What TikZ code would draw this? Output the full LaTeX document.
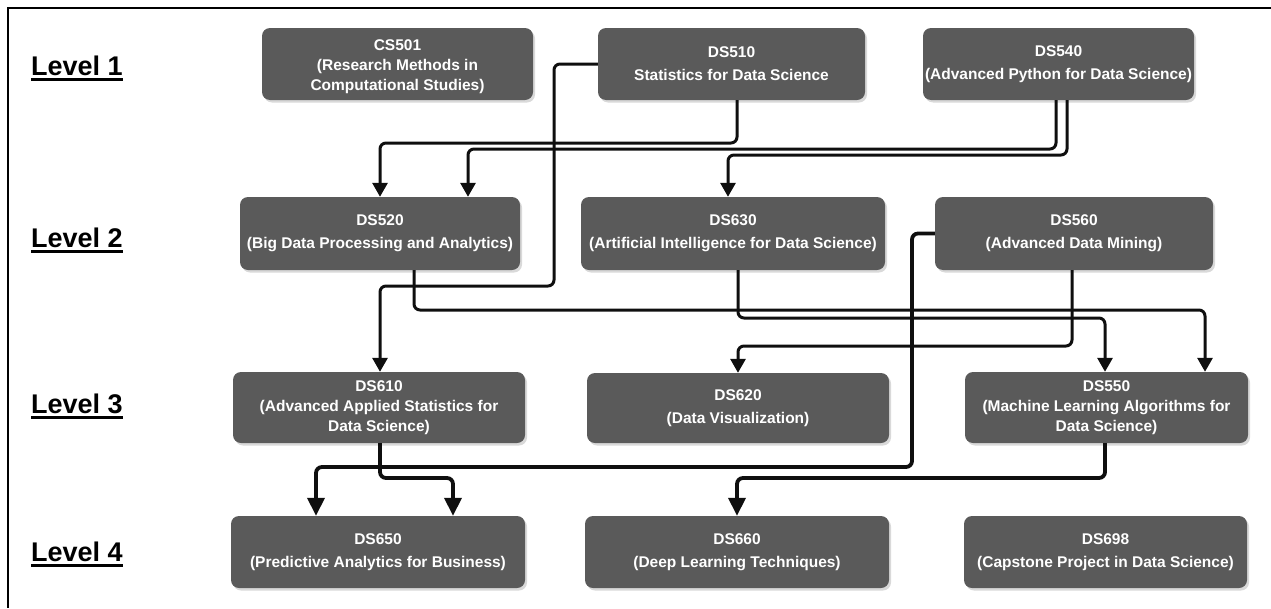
\documentclass[tikz,border=0pt]{standalone}
\usepackage{fontspec}
\setmainfont{Liberation Sans}
\usetikzlibrary{arrows.meta,shadows,calc}
\definecolor{boxgray}{RGB}{90,90,90}
\definecolor{linecol}{RGB}{15,15,15}
\begin{document}
\begin{tikzpicture}[x=1pt,y=-1pt,
  course/.style={rectangle, rounded corners=8pt, fill=boxgray, text=white,
    align=center, inner sep=0pt,
    font=\fontsize{15.5}{23}\selectfont\bfseries,
    drop shadow={shadow xshift=2pt, shadow yshift=-2.5pt, opacity=0.3, fill=gray}},
  coursethree/.style={course, font=\fontsize{15.5}{20}\selectfont\bfseries},
  level/.style={anchor=base west, inner sep=0pt,
    font=\fontsize{27}{27}\selectfont\bfseries},
  link/.style={draw=linecol, line width=3pt, rounded corners=6pt,
    -{Triangle[length=14pt,width=15pt]}},
  heavylink/.style={link, line width=3.8pt,
    -{Triangle[length=18pt,width=17pt]}},
]
\useasboundingbox (0,0) rectangle (1271,608);

% page frame (top and left edges)
\draw[line width=2.5pt] (1271,8) -- (8,8) -- (8,608);

% level headings
\foreach \n/\y in {1/75, 2/247, 3/413, 4/561}{
  \node[level] (lv\n) at (31,\y) {Level \n};
  \draw[line width=2.2pt] ([yshift=-4.5pt]lv\n.base west) -- ([yshift=-4.5pt]lv\n.base east);
}

% level 1
\node[coursethree, minimum width=271pt, minimum height=72pt] (cs501) at (397.5,64)
  {\rule{0pt}{17pt}CS501\\(Research Methods in\\Computational Studies)};
\node[course, minimum width=267pt, minimum height=72pt] (ds510) at (731.5,64)
  {DS510\\Statistics for Data Science};
\node[course, minimum width=271pt, minimum height=72pt] (ds540) at (1058.5,64)
  {DS540\\(Advanced Python for Data Science)};

% level 2
\node[course, minimum width=280pt, minimum height=73pt] (ds520) at (380,233.5)
  {DS520\\(Big Data Processing and Analytics)};
\node[course, minimum width=304pt, minimum height=73pt] (ds630) at (733,233.5)
  {DS630\\(Artificial Intelligence for Data Science)};
\node[course, minimum width=278pt, minimum height=73pt] (ds560) at (1074,233.5)
  {DS560\\(Advanced Data Mining)};

% level 3
\node[coursethree, minimum width=292pt, minimum height=71pt] (ds610) at (379,407.5)
  {DS610\\(Advanced Applied Statistics for\\Data Science)};
\node[course, minimum width=302pt, minimum height=70pt] (ds620) at (738,408)
  {DS620\\(Data Visualization)};
\node[coursethree, minimum width=283pt, minimum height=71pt] (ds550) at (1106.5,407.5)
  {DS550\\(Machine Learning Algorithms for\\Data Science)};

% level 4
\node[course, minimum width=294pt, minimum height=72pt] (ds650) at (378,552)
  {DS650\\(Predictive Analytics for Business)};
\node[course, minimum width=304pt, minimum height=72pt] (ds660) at (737,552)
  {DS660\\(Deep Learning Techniques)};
\node[course, minimum width=283pt, minimum height=72pt] (ds698) at (1105.5,552)
  {DS698\\(Capstone Project in Data Science)};

% prerequisites: level 1 -> level 2
\draw[link] (737,0 |- ds510.south) |- (380,143) -- (380,0 |- ds520.north);
\draw[link] (1056,0 |- ds540.south) |- (468,149) -- (468,0 |- ds520.north);
\draw[link] (1067,0 |- ds540.south) |- (728,155) -- (728,0 |- ds630.north);

% level 1/2 -> level 3
\draw[link] (ds510.west) -| (554,286) -| (380,0 |- ds610.north);
\draw[link] (414,0 |- ds520.south) |- (1205,310) -- (1205,0 |- ds550.north);
\draw[link] (738,0 |- ds630.south) |- (1105,318) -- (1105,0 |- ds550.north);
\draw[link] (1072,0 |- ds560.south) |- (738,346) -- (738,0 |- ds620.north);

% level 2/3 -> level 4
\draw[heavylink] (ds560.west) -| (912,467) -| (316,0 |- ds650.north);
\draw[heavylink] (380,0 |- ds610.south) |- (453,478) -- (453,0 |- ds650.north);
\draw[heavylink] (1105,0 |- ds550.south) |- (737,478) -- (737,0 |- ds660.north);
\end{tikzpicture}
\end{document}
